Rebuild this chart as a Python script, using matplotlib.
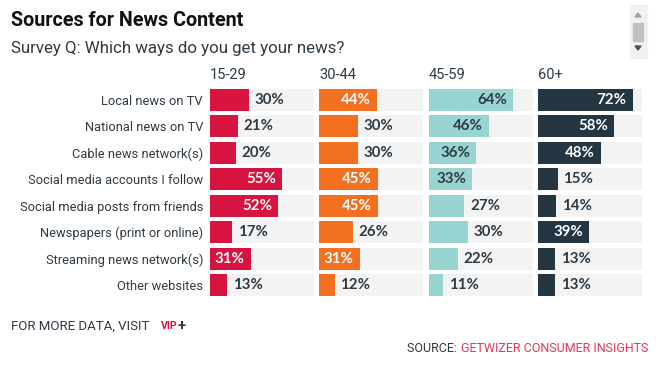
import matplotlib
matplotlib.use("Agg")
import matplotlib.pyplot as plt
from matplotlib.patches import Rectangle, Polygon

# data
categories = ["Local news on TV", "National news on TV", "Cable news network(s)",
              "Social media accounts I follow", "Social media posts from friends",
              "Newspapers (print or online)", "Streaming news network(s)", "Other websites"]
age_groups = ["15-29", "30-44", "45-59", "60+"]
age_15_29 = [30, 21, 20, 55, 52, 17, 31, 13]
age_30_44 = [44, 30, 30, 45, 45, 26, 31, 12]
age_45_59 = [64, 46, 36, 33, 27, 30, 22, 11]
age_60_plus = [72, 58, 48, 15, 14, 39, 13, 13]
series = [age_15_29, age_30_44, age_45_59, age_60_plus]

colors = ["#D7143F", "#F37021", "#98D5D2", "#233641"]
inside_text = ["white", "white", "#2E3A44", "white"]
dark = "#2E3A44"
track = "#F3F3F3"

W, H = 665, 365
fig = plt.figure(figsize=(W / 100, H / 100), dpi=100)


def fx(x):
    return x / W


def fy(y):
    return 1 - y / H


xmax = max(max(s) for s in series) * 1.1
lefts = [210, 319, 429, 538]
pw = 104
top, bottom = 86.8, 298.2

for i, (vals, col) in enumerate(zip(series, colors)):
    ax = fig.add_axes([fx(lefts[i]), fy(bottom), pw / W, (bottom - top) / H])
    ypos = range(len(categories))
    ax.barh(ypos, [xmax] * len(vals), height=0.83, color=track, left=0)
    ax.barh(ypos, vals, height=0.83, color=col)
    ax.set_xlim(0, xmax)
    ax.set_ylim(len(categories) - 0.5, -0.5)
    for s in ax.spines.values():
        s.set_visible(False)
    ax.set_xticks([])
    if i == 0:
        ax.set_yticks(list(ypos))
        ax.set_yticklabels(categories, fontsize=9.3, color=dark, family="Roboto")
        ax.tick_params(axis="y", length=0, pad=5)
    else:
        ax.set_yticks([])
    for y, v in zip(ypos, vals):
        if v > 30:
            ax.annotate(f"{v}%", (v, y), xytext=(-4.5, 0), textcoords="offset points",
                        ha="right", va="center", fontsize=10.8, fontweight="bold",
                        family="Lato", color=inside_text[i])
        else:
            ax.annotate(f"{v}%", (v, y), xytext=(4, 0), textcoords="offset points",
                        ha="left", va="center", fontsize=10.8, fontweight="bold",
                        family="Lato", color=dark)
    fig.text(fx(lefts[i]), fy(75), age_groups[i], fontsize=10.5, color=dark,
             family="Roboto", va="center", ha="left")

fig.text(fx(11), fy(20), "Sources for News Content", fontsize=14.2, fontweight="bold",
         color="#111111", family="Roboto", va="center")
fig.text(fx(11), fy(48), "Survey Q: Which ways do you get your news?", fontsize=12.2,
         color=dark, family="Roboto", va="center")

# footer
fig.text(fx(11), fy(326), "FOR MORE DATA, VISIT", fontsize=9.5, color=dark,
         family="Roboto", va="center")
fig.text(fx(161), fy(326), "VIP", fontsize=7.6, fontweight="bold", color="#D7143F",
         family="Roboto", va="center")
fig.text(fx(178), fy(326), "+", fontsize=10.5, fontweight="bold", color=dark,
         family="Roboto", va="center")
fig.text(fx(461), fy(348), "GETWIZER CONSUMER INSIGHTS", fontsize=9, color="#E8345A",
         family="Roboto", va="center", ha="left")
fig.text(fx(460), fy(348), "SOURCE: ", fontsize=9, color=dark,
         family="Roboto", va="center", ha="right")

# scrollbar decoration
fig.patches.append(Rectangle((fx(630), fy(58)), 17 / W, 53 / H, transform=fig.transFigure,
                             color="#F1F1F1"))
fig.patches.append(Rectangle((fx(633), fy(41)), 10 / W, 18 / H, transform=fig.transFigure,
                             color="#C1C1C1"))
fig.patches.append(Polygon([(fx(635), fy(17)), (fx(641), fy(17)), (fx(638), fy(13))],
                           transform=fig.transFigure, color="#A3A3A3"))
fig.patches.append(Polygon([(fx(635), fy(46)), (fx(641), fy(46)), (fx(638), fy(50))],
                           transform=fig.transFigure, color="#505050"))

fig.savefig("out.png", dpi=100)
